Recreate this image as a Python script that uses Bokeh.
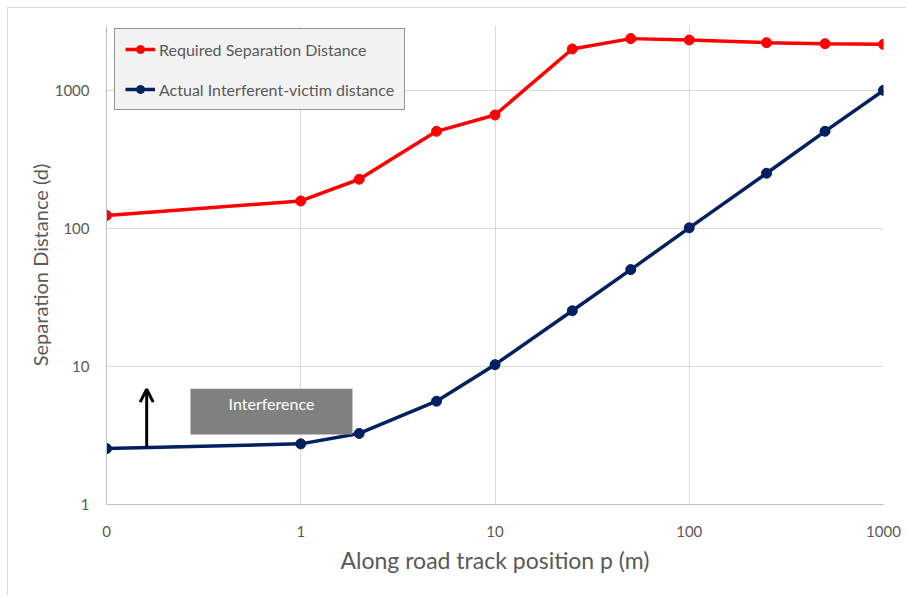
from bokeh.plotting import figure
from bokeh.models import (FixedTicker, Legend, LegendItem, BoxAnnotation, Label,
                          Arrow, OpenHead, Range1d)
from bokeh.embed import file_html
from bokeh.resources import INLINE

# ---- data ----
positions = [0.1, 1, 2, 5, 10, 25, 50, 100, 250, 500, 1000]   # 0.1 shown as "0"
required = [124, 158, 227, 505, 663, 1994, 2370, 2317, 2215, 2178, 2154]
actual = [2.54, 2.75, 3.27, 5.6, 10.3, 25.3, 50.3, 101, 251, 505, 1000]
x_ticks = [0.1, 1, 10, 100, 1000]
x_tick_labels = ["0", "1", "10", "100", "1000"]
y_ticks = [1, 10, 100, 1000]
y_tick_labels = ["1", "10", "100", "1000"]
series_names = ["Required Separation Distance", "Actual Interferent-victim distance"]

# annotation geometry (data coordinates)
interf_box = dict(left=0.2707, right=1.846, bottom=3.21, top=6.90)
interf_label_pos = (0.707, 5.4)
arrow_x = 0.161
arrow_y = (2.6, 6.85)

FONT = "Lato"
TXT = "#595959"
RED = "#FF0000"
NAVY = "#002060"

p = figure(width=899, height=588, x_axis_type="log", y_axis_type="log",
           x_range=Range1d(0.1, 1000), y_range=Range1d(1, 2950),
           output_backend="svg", toolbar_location=None,
           min_border_left=98, min_border_right=24, min_border_top=17, min_border_bottom=92,
           styles={"margin": "7px 0px 0px 7px",
                   "border-top": "1px solid #d9d9d9", "border-left": "1px solid #d9d9d9"})
p.outline_line_color = None
p.background_fill_color = "white"
p.border_fill_color = "white"

# axes
p.xaxis.ticker = FixedTicker(ticks=x_ticks, minor_ticks=[])
p.yaxis.ticker = FixedTicker(ticks=y_ticks, minor_ticks=[])
p.xaxis.major_label_overrides = {t: l for t, l in zip(x_ticks, x_tick_labels)}
p.yaxis.major_label_overrides = {t: l for t, l in zip(y_ticks, y_tick_labels)}
for ax in (p.xaxis, p.yaxis):
    ax.axis_line_color = "#bfbfbf"
    ax.axis_line_width = 1
    ax.major_tick_line_color = None
    ax.minor_tick_line_color = None
    ax.major_label_text_font = FONT
    ax.major_label_text_font_size = "15px"
    ax.major_label_text_color = TXT
    ax.axis_label_text_font = FONT
    ax.axis_label_text_color = TXT
    ax.axis_label_text_font_style = "normal"
p.xaxis.axis_label = "Along road track position p (m)"
p.yaxis.axis_label = "Separation Distance (d)"
p.xaxis.axis_label_text_font_size = "23px"
p.yaxis.axis_label_text_font_size = "20px"
p.xaxis.major_label_standoff = 15
p.xaxis.axis_label_standoff = 6
p.yaxis.major_label_standoff = 11
p.yaxis.axis_label_standoff = 0

p.xgrid.ticker = FixedTicker(ticks=x_ticks[1:])
p.ygrid.ticker = FixedTicker(ticks=y_ticks[1:])
p.grid.grid_line_color = "#d9d9d9"
p.grid.grid_line_width = 1

# interference annotation
box = BoxAnnotation(fill_color="#808080", fill_alpha=1.0, line_color=None, **interf_box)
p.add_layout(box)
p.add_layout(Label(x=interf_label_pos[0], y=interf_label_pos[1], text="Interference",
                   text_color="white", text_font=FONT, text_font_size="16px",
                   text_align="center", text_baseline="middle"))
p.add_layout(Arrow(end=OpenHead(size=13, line_width=3, line_color="black"),
                   x_start=arrow_x, y_start=arrow_y[0], x_end=arrow_x, y_end=arrow_y[1],
                   line_width=3, line_color="black"))

# series
l1 = p.line(positions, required, line_color=RED, line_width=3.5)
s1 = p.scatter(positions, required, size=10, fill_color=RED, line_color=RED)
l2 = p.line(positions, actual, line_color=NAVY, line_width=3.5)
s2 = p.scatter(positions, actual, size=10, fill_color=NAVY, line_color=NAVY)

legend = Legend(items=[LegendItem(label=series_names[0], renderers=[l1, s1]),
                       LegendItem(label=series_names[1], renderers=[l2, s2])],
                location=(8, 394), orientation="vertical",
                background_fill_color="#f2f2f2", background_fill_alpha=1.0,
                border_line_color="#333333", border_line_width=1.5,
                label_text_font=FONT, label_text_font_size="16px", label_text_color=TXT,
                glyph_width=30, glyph_height=20, label_height=20, spacing=20,
                padding=10, margin=0, label_standoff=4)
p.add_layout(legend)

open("out.html", "w").write(file_html(p, INLINE))
